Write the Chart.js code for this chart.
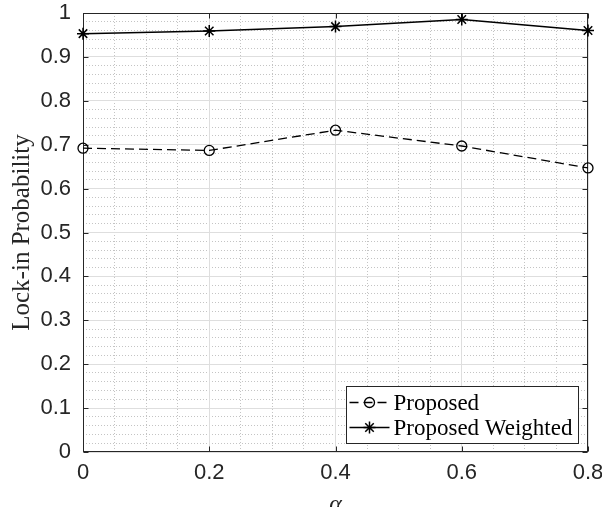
<!DOCTYPE html>
<html lang="en">
<head>
    <meta charset="UTF-8">
    <title>Lock-in Probability vs alpha</title>
    <script src="https://cdn.jsdelivr.net/npm/chart.js"></script>
    <style>
        body { margin: 0; background: #fff; }
        canvas { display: block; }
    </style>
</head>
<body>
    <canvas id="lockChart" width="602" height="507"></canvas>

    <script>
        // values
        const alpha = [0, 0.2, 0.4, 0.6, 0.8];
        const proposed = [0.692, 0.687, 0.733, 0.697, 0.647];
        const proposedWeighted = [0.953, 0.959, 0.969, 0.985, 0.960];
        const seriesLabels = ['Proposed', 'Proposed Weighted'];

        const axisColor = '#262626';

        function toPoints(ys) {
            return alpha.map((a, i) => ({ x: a, y: ys[i] }));
        }

        // MATLAB prints 1 and 0, not 1.0
        function tickText(v) {
            return String(+v.toFixed(2));
        }

        // inward tick marks and the box round the plot, MATLAB style
        const axesBox = {
            id: 'axesBox',
            beforeDatasetsDraw(chart) {
                const { ctx, chartArea: a, scales } = chart;
                const left = Math.round(a.left) + 0.5, right = Math.round(a.right) - 0.5;
                const top = Math.round(a.top) + 0.5, bottom = Math.round(a.bottom) - 0.5;
                ctx.save();
                ctx.strokeStyle = axisColor;
                ctx.lineWidth = 1;
                ctx.beginPath();
                scales.x.ticks.forEach(t => {
                    const px = Math.round(scales.x.getPixelForValue(t.value)) + 0.5;
                    ctx.moveTo(px, bottom); ctx.lineTo(px, bottom - 5);
                    ctx.moveTo(px, top); ctx.lineTo(px, top + 5);
                });
                scales.y.ticks.forEach(t => {
                    const py = Math.round(scales.y.getPixelForValue(t.value)) + 0.5;
                    ctx.moveTo(left, py); ctx.lineTo(left + 5, py);
                    ctx.moveTo(right, py); ctx.lineTo(right - 5, py);
                });
                ctx.stroke();
                ctx.strokeRect(left, top, right - left, bottom - top);
                ctx.restore();
            }
        };

        // legend box in the lower right corner of the plot
        const boxLegend = {
            id: 'boxLegend',
            afterDatasetsDraw(chart) {
                const { ctx, chartArea: a } = chart;
                const sets = chart.data.datasets;
                ctx.save();
                ctx.font = '23px "Liberation Serif"';
                const textW = Math.max(...sets.map(d => ctx.measureText(d.label).width));
                const w = Math.round(47 + textW + 6), rowH = 25, h = rowH * sets.length + 7;
                const x0 = Math.round(a.right - 10 - w) + 0.5, y0 = Math.round(a.bottom - 9 - h) + 0.5;

                ctx.fillStyle = '#fff';
                ctx.fillRect(x0, y0, w, h);
                ctx.strokeStyle = axisColor;
                ctx.lineWidth = 1;
                ctx.strokeRect(x0, y0, w, h);

                sets.forEach((d, i) => {
                    const cy = y0 + 16 + i * rowH;
                    ctx.strokeStyle = d.borderColor;
                    ctx.lineWidth = d.borderWidth;
                    ctx.setLineDash(d.borderDash || []);
                    ctx.beginPath();
                    ctx.moveTo(x0 + 3, cy);
                    ctx.lineTo(x0 + 43, cy);
                    ctx.stroke();
                    ctx.setLineDash([]);
                    ctx.fillStyle = 'rgba(0,0,0,0)';
                    ctx.lineWidth = d.pointBorderWidth;
                    Chart.helpers.drawPoint(ctx, {
                        pointStyle: d.pointStyle, radius: d.pointRadius,
                        rotation: 0, borderWidth: d.pointBorderWidth
                    }, x0 + 23, cy);
                    ctx.fillStyle = '#000';
                    ctx.textAlign = 'left';
                    ctx.textBaseline = 'middle';
                    ctx.fillText(d.label, x0 + 47, cy + 1);
                });
                ctx.restore();
            }
        };

        const ctx = document.getElementById('lockChart').getContext('2d');
        new Chart(ctx, {
            type: 'line',
            data: {
                datasets: [{
                    label: seriesLabels[0],
                    data: toPoints(proposed),
                    borderColor: '#000',
                    borderWidth: 1.3,
                    borderDash: [9, 5],
                    pointStyle: 'circle',
                    pointRadius: 5,
                    pointBorderWidth: 1.3,
                    pointBorderColor: '#000',
                    pointBackgroundColor: 'rgba(0,0,0,0)',
                    clip: false
                }, {
                    label: seriesLabels[1],
                    data: toPoints(proposedWeighted),
                    borderColor: '#000',
                    borderWidth: 1.5,
                    pointStyle: 'star',
                    pointRadius: 6,
                    pointBorderWidth: 1.5,
                    pointBorderColor: '#000',
                    pointBackgroundColor: '#000',
                    clip: false
                }]
            },
            options: {
                responsive: false,
                animation: false,
                layout: { padding: { top: 13, right: 14, left: 0, bottom: 0 } },
                plugins: {
                    legend: { display: false },
                    tooltip: { enabled: false }
                },
                scales: {
                    xm: {
                        type: 'linear', position: 'bottom', min: 0, max: 0.8, z: -1,
                        ticks: { display: false, stepSize: 0.05, autoSkip: false },
                        grid: { color: '#c4c4c4', lineWidth: 1, drawTicks: false },
                        border: { display: false, dash: [1, 2] },
                        afterFit(s) { s.height = 0; s.paddingLeft = 0; s.paddingRight = 0; }
                    },
                    ym: {
                        type: 'linear', position: 'left', min: 0, max: 1, z: -1,
                        ticks: { display: false, stepSize: 0.02, autoSkip: false, maxTicksLimit: 100 },
                        grid: { color: '#c4c4c4', lineWidth: 1, drawTicks: false },
                        border: { display: false, dash: [1, 2] },
                        afterFit(s) { s.width = 0; s.paddingTop = 0; s.paddingBottom = 0; }
                    },
                    x: {
                        type: 'linear', position: 'bottom', min: 0, max: 0.8,
                        ticks: {
                            stepSize: 0.2, padding: 8, color: axisColor, maxRotation: 0,
                            font: { family: 'Liberation Sans', size: 22 },
                            callback: tickText
                        },
                        grid: { color: '#dedede', lineWidth: 1, drawTicks: false },
                        border: { display: false },
                        title: {
                            display: true, text: 'α', color: axisColor,
                            font: { family: 'Liberation Serif', size: 24, style: 'italic' },
                            padding: { top: 0, bottom: -12 }
                        },
                        afterFit(s) { s.height = 55; s.paddingLeft = 0; s.paddingRight = 0; }
                    },
                    y: {
                        type: 'linear', position: 'left', min: 0, max: 1,
                        ticks: {
                            stepSize: 0.1, padding: 12, color: axisColor,
                            font: { family: 'Liberation Sans', size: 22 },
                            callback: tickText
                        },
                        grid: { color: '#dedede', lineWidth: 1, drawTicks: false },
                        border: { display: false },
                        title: {
                            display: true, text: 'Lock-in Probability', color: axisColor,
                            font: { family: 'Liberation Serif', size: 25 },
                            padding: { top: 7, bottom: 0 }
                        },
                        afterFit(s) { s.width = 83; s.paddingTop = 0; s.paddingBottom = 0; }
                    }
                }
            },
            plugins: [axesBox, boxLegend]
        });
    </script>
</body>
</html>
